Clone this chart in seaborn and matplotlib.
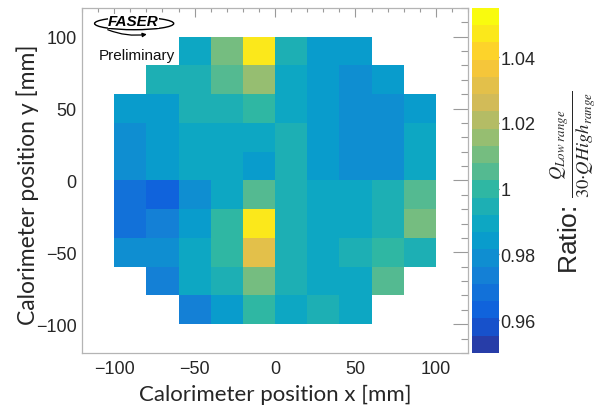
import numpy as np
import matplotlib
matplotlib.use('Agg')
import matplotlib.pyplot as plt
from matplotlib.colors import LinearSegmentedColormap, ListedColormap
from matplotlib.patches import Ellipse
from matplotlib.ticker import MultipleLocator
import seaborn as sns

# Ratio Q_low / (30*Q_high) per calorimeter cell (20 mm bins), rows top -> bottom
row_y = [90, 70, 50, 30, 10, -10, -30, -50, -70, -90]
row_x0 = [-50, -70, -90, -90, -90, -90, -90, -90, -70, -50]
r_p90 = [0.9894, 1.0104, 1.0472, 0.9946, 0.9841, 0.9841]
r_p70 = [0.9946, 0.9946, 1.0051, 1.0156, 0.9894, 0.9841, 0.9789, 0.9841]
r_p50 = [0.9841, 0.9841, 0.9946, 0.9946, 0.9999, 0.9894, 0.9841, 0.9789, 0.9789, 0.9841]
r_p30 = [0.9789, 0.9841, 0.9894, 0.9894, 0.9894, 0.9946, 0.9841, 0.9789, 0.9789, 0.9894]
r_p10 = [0.9789, 0.9841, 0.9894, 0.9894, 0.9841, 0.9946, 0.9841, 0.9789, 0.9789, 0.9894]
r_m10 = [0.9684, 0.9631, 0.9789, 0.9894, 1.0051, 0.9946, 0.9894, 0.9894, 0.9946, 1.0051]
r_m30 = [0.9684, 0.9736, 0.9841, 0.9999, 1.0472, 0.9946, 0.9894, 0.9894, 0.9946, 1.0104]
r_m50 = [0.9789, 0.9789, 0.9894, 0.9999, 1.0314, 0.9946, 0.9894, 0.9946, 0.9999, 0.9946]
r_m70 = [0.9736, 0.9894, 0.9946, 1.0104, 0.9946, 0.9894, 0.9894, 1.0051]
r_m90 = [0.9736, 0.9841, 0.9999, 0.9894, 0.9946, 0.9894]
rows = [r_p90, r_p70, r_p50, r_p30, r_p10, r_m10, r_m30, r_m50, r_m70, r_m90]

bin_edges = np.arange(-100, 101, 20)
z_min, z_max = 0.95, 1.055
n_contours = 20
cbar_ticks = [0.96, 0.98, 1.0, 1.02, 1.04]
cbar_ticklabels = ['0.96', '0.98', '1', '1.02', '1.04']

# ROOT kBird palette (255 colours), picked per contour like THistPainter does
stops = [0.0, 0.125, 0.25, 0.375, 0.5, 0.625, 0.75, 0.875, 1.0]
red = [0.2082, 0.0592, 0.0780, 0.0232, 0.1802, 0.5301, 0.8186, 0.9956, 0.9764]
green = [0.1664, 0.3599, 0.5041, 0.6419, 0.7178, 0.7492, 0.7328, 0.7862, 0.9832]
blue = [0.5293, 0.8684, 0.8385, 0.7914, 0.6425, 0.4662, 0.3499, 0.1968, 0.0539]
bird_full = LinearSegmentedColormap.from_list('bird', list(zip(stops, zip(red, green, blue))))
pal_idx = [int((k + 0.99) * 255 / n_contours) / 254 for k in range(n_contours)]
bird = ListedColormap([bird_full(f) for f in pal_idx])

xs, ys, ws = [], [], []
for y, x0, vals in zip(row_y, row_x0, rows):
    for k, v in enumerate(vals):
        xs.append(x0 + 20 * k)
        ys.append(y)
        ws.append(v)

sns.set_style('white')
plt.rcParams['font.family'] = ['Liberation Sans', 'DejaVu Sans']

fig = plt.figure(figsize=(6.04, 4.10), dpi=100)
ax = fig.add_axes([0.1358, 0.1366, 0.6391, 0.8415])
cax = fig.add_axes([0.7815, 0.1366, 0.0447, 0.8415])

sns.histplot(x=xs, y=ys, weights=ws, bins=[bin_edges, bin_edges], cmap=bird,
             vmin=z_min, vmax=z_max, cbar=True, cbar_ax=cax, ax=ax)

ax.set_xlim(-120, 120)
ax.set_ylim(-120, 120)
ax.xaxis.set_major_locator(MultipleLocator(50))
ax.xaxis.set_minor_locator(MultipleLocator(10))
ax.yaxis.set_major_locator(MultipleLocator(50))
ax.yaxis.set_minor_locator(MultipleLocator(10))
tick_col = '#9a9a9a'
ax.tick_params(axis='x', which='major', direction='in', length=6.5, width=0.8,
               top=True, color=tick_col, labelsize=13, pad=5)
ax.tick_params(axis='x', which='minor', direction='in', length=3.2, width=0.8,
               top=True, color=tick_col)
ax.tick_params(axis='y', which='major', direction='in', length=11, width=0.8,
               right=True, color=tick_col, labelsize=13, pad=4)
ax.tick_params(axis='y', which='minor', direction='in', length=5.4, width=0.8,
               right=True, color=tick_col)
for s in ax.spines.values():
    s.set_color('#b4b4b4')
    s.set_linewidth(0.9)

ax.set_xlabel('Calorimeter position x [mm]', fontsize=16, family='Lato', va='center')
ax.set_ylabel('Calorimeter position y [mm]', fontsize=16.5, family='Lato', va='center')
ax.xaxis.set_label_coords(0.5, -0.119)
ax.yaxis.set_label_coords(-0.14, 0.49)

# colour bar in ROOT palette-axis style
cax.set_ylim(z_min, z_max)
cax.set_yticks(cbar_ticks)
cax.set_yticklabels(cbar_ticklabels)
cax.yaxis.set_minor_locator(plt.NullLocator())
cax.tick_params(axis='y', direction='in', length=10, width=0.9, color='#555555',
                labelsize=13, pad=1, left=False, right=True, labelright=True, labelleft=False)
for s in cax.spines.values():
    s.set_visible(False)

fig.text(573 / 604, 1 - 182 / 410,
         r'Ratio: $\frac{Q_{Low\ range}}{30{\cdot}QHigh_{range}}$',
         rotation=90, ha='center', va='center', fontsize=19, math_fontfamily='stix')

# FASER logo + Preliminary
ax.add_patch(Ellipse((0.135, 0.955), 0.205, 0.036, transform=ax.transAxes,
                     fill=False, edgecolor='black', lw=1.0))
ax.text(0.133, 0.962, 'FASER', transform=ax.transAxes, ha='center', va='center',
        fontsize=11, fontweight='heavy', fontstyle='italic', color='black',
        bbox=dict(facecolor='white', edgecolor='none', pad=0.2))
ax.annotate('', xy=(0.175, 0.925), xytext=(0.06, 0.94), xycoords='axes fraction',
            arrowprops=dict(arrowstyle='-|>', color='black', lw=0.9,
                            connectionstyle='arc3,rad=0.15', mutation_scale=6))
ax.text(0.044, 0.865, 'Preliminary', transform=ax.transAxes, ha='left', va='center',
        fontsize=11, color='#111111')

fig.savefig('out.png', dpi=100)
